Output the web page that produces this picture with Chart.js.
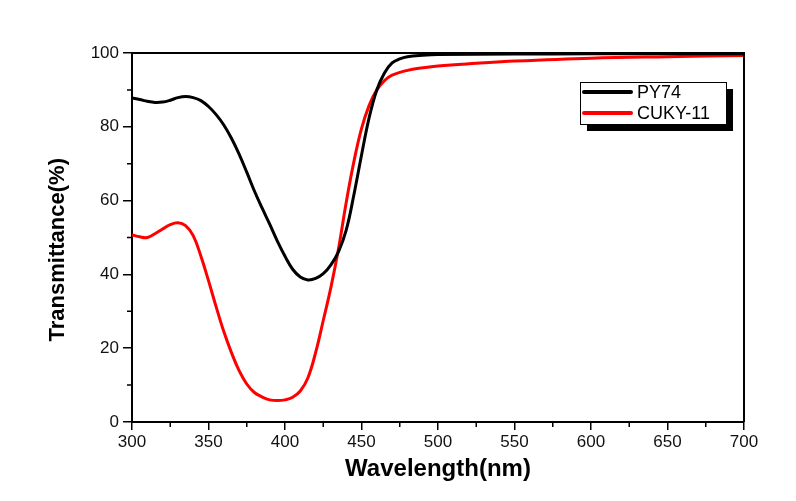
<!DOCTYPE html>
<html>
<head>
<meta charset="utf-8">
<script src="https://cdn.jsdelivr.net/npm/chart.js@4/dist/chart.umd.min.js"></script>
<style>
  html, body { margin: 0; padding: 0; background: #fff; }
  #wrap { width: 796px; height: 501px; }
</style>
</head>
<body>
<div id="wrap"><canvas id="c" width="796" height="501"></canvas></div>
<script>
// Wavelength (nm) sample positions
const wavelengthPY74 = [300,305,310,315,320,325,330,335,340,345,350,355,360,365,370,375,380,385,390,395,400,405,410,415,420,425,430,435,440,445,450,455,460,465,470,475,480,490,500,550,600,650,700];
const transmittancePY74 = [87.8,87.4,86.9,86.6,86.7,87.2,87.9,88.2,87.9,87.1,85.5,83.3,80.5,76.9,72.6,67.7,62.6,58.0,53.6,49.0,44.9,41.4,39.3,38.5,38.9,40.2,42.6,46.2,52.0,61.5,72.3,82.5,90.0,94.6,97.3,98.4,99.0,99.4,99.6,99.7,99.8,99.8,99.8];

const wavelengthCUKY = [300,305,310,315,320,325,330,335,340,345,350,355,360,365,370,375,380,385,390,395,400,405,410,415,420,425,430,435,440,445,450,455,460,465,470,480,490,500,525,550,600,650,700];
const transmittanceCUKY = [50.7,50.2,50.0,51.0,52.3,53.5,54.0,53.2,50.5,45.0,38.3,31.2,24.5,18.8,13.9,10.3,8.0,6.8,6.0,5.8,6.0,6.7,8.4,12.0,18.8,27.5,36.5,47.0,59.5,70.5,79.5,85.8,90.0,92.5,94.0,95.3,96.0,96.5,97.2,97.8,98.6,99.0,99.3];

const seriesLabels = ['PY74', 'CUKY-11'];
const seriesColors = ['#000000', '#ff0000'];

const xTicksMajor = { min: 300, max: 700, step: 50, minorStep: 25 };
const yTicksMajor = { min: 0, max: 100, step: 20, minorStep: 10 };

function toPoints(xs, ys) { return xs.map((x, i) => ({ x: x, y: ys[i] })); }

const FONT = "'Liberation Sans', Arial, Helvetica, sans-serif";

const framePlugin = {
  id: 'frame',
  afterDraw(chart) {
    const ctx = chart.ctx;
    const a = chart.chartArea;
    const xs = chart.scales.x, ys = chart.scales.y;
    ctx.save();
    ctx.strokeStyle = '#000';
    ctx.lineWidth = 2;
    // top and right border
    ctx.beginPath();
    ctx.moveTo(a.left, a.top); ctx.lineTo(a.right, a.top); ctx.lineTo(a.right, a.bottom);
    ctx.stroke();
    // minor ticks
    ctx.lineWidth = 1.5;
    ctx.beginPath();
    for (let v = xTicksMajor.min + xTicksMajor.minorStep; v < xTicksMajor.max; v += xTicksMajor.step) {
      const px = xs.getPixelForValue(v);
      ctx.moveTo(px, a.bottom); ctx.lineTo(px, a.bottom + 5);
    }
    for (let v = yTicksMajor.min + yTicksMajor.minorStep; v < yTicksMajor.max; v += yTicksMajor.step) {
      const py = ys.getPixelForValue(v);
      ctx.moveTo(a.left, py); ctx.lineTo(a.left - 5, py);
    }
    ctx.stroke();

    // legend with drop shadow
    const bx = 580, by = 82, bw = 146, bh = 42;
    ctx.fillStyle = '#000';
    ctx.fillRect(bx + 7, by + 7, bw, bh);
    ctx.fillStyle = '#fff';
    ctx.fillRect(bx, by, bw, bh);
    ctx.lineWidth = 1;
    ctx.strokeStyle = '#000';
    ctx.strokeRect(bx + 0.5, by + 0.5, bw, bh);
    ctx.font = "18px " + FONT;
    ctx.textBaseline = 'middle';
    ctx.textAlign = 'left';
    chart.data.datasets.forEach((ds, i) => {
      const ly = by + 10 + i * 21;
      ctx.strokeStyle = ds.borderColor;
      ctx.lineWidth = 4;
      ctx.lineCap = 'round';
      ctx.beginPath();
      ctx.moveTo(bx + 4, ly); ctx.lineTo(bx + 51, ly);
      ctx.stroke();
      ctx.fillStyle = '#000';
      ctx.fillText(ds.label, bx + 57, ly + 1);
    });
    ctx.restore();
  }
};

new Chart(document.getElementById('c'), {
  type: 'line',
  data: {
    datasets: [
      { label: seriesLabels[0], data: toPoints(wavelengthPY74, transmittancePY74), borderColor: seriesColors[0], borderWidth: 3, pointRadius: 0, tension: 0.4, fill: false },
      { label: seriesLabels[1], data: toPoints(wavelengthCUKY, transmittanceCUKY), borderColor: seriesColors[1], borderWidth: 3, pointRadius: 0, tension: 0.4, fill: false }
    ]
  },
  options: {
    responsive: false,
    animation: false,
    devicePixelRatio: 1,
    layout: { padding: { left: 0, top: 53, right: 52, bottom: 0 } },
    plugins: { legend: { display: false }, tooltip: { enabled: false } },
    scales: {
      x: {
        type: 'linear',
        min: xTicksMajor.min, max: xTicksMajor.max,
        afterFit(s) { s.height = 79; },
        ticks: { stepSize: xTicksMajor.step, color: '#111', padding: 2, font: { family: FONT, size: 17 } },
        grid: { drawOnChartArea: false, color: '#000', lineWidth: 1.5, tickLength: 8 },
        border: { color: '#000', width: 2 },
        title: { display: true, text: 'Wavelength(nm)', color: '#000', font: { family: FONT, size: 24, weight: 'bold' }, padding: { top: 0, bottom: 17 } }
      },
      y: {
        min: yTicksMajor.min, max: yTicksMajor.max,
        afterFit(s) { s.width = 132; },
        ticks: { stepSize: yTicksMajor.step, color: '#111', padding: 4, font: { family: FONT, size: 17 } },
        grid: { drawOnChartArea: false, color: '#000', lineWidth: 1.5, tickLength: 9 },
        border: { color: '#000', width: 2 },
        title: { display: true, text: 'Transmittance(%)    ', color: '#000', font: { family: FONT, size: 22, weight: 'bold' }, padding: { top: 45, bottom: 0 } }
      }
    }
  },
  plugins: [framePlugin]
});
</script>
</body>
</html>
